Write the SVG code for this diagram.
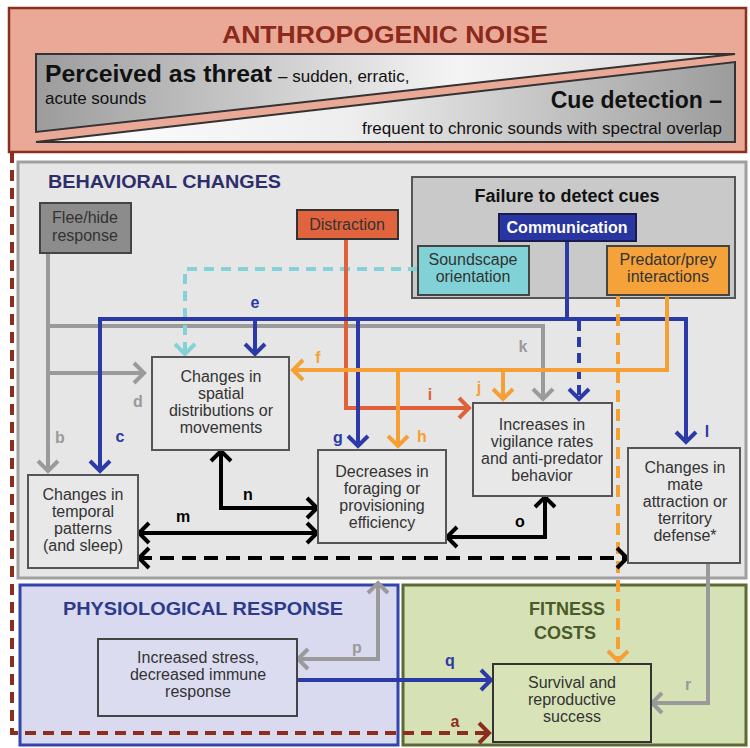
<svg xmlns="http://www.w3.org/2000/svg" width="750" height="748" viewBox="0 0 750 748">
<style>
text{font-family:"Liberation Sans",Arial,sans-serif}
.nt{font-size:16px;fill:#333;text-anchor:middle}
.lb{font-size:16px;font-weight:bold;text-anchor:middle}
.box{fill:#e8e8e8;stroke:#555;stroke-width:2}
.ln{fill:none;stroke-width:4}
.gray{stroke:#9a9a9a}
.blue{stroke:#2b3aa6}
.org{stroke:#f5a035}
.red{stroke:#e0603a}
.cyan{stroke:#84d2d8}
.blk{stroke:#000}
.brn{stroke:#8b2e1e}
</style>
<defs>
<linearGradient id="gU" x1="0" y1="0" x2="1" y2="0">
<stop offset="0" stop-color="#9c9c9c"/><stop offset="0.6" stop-color="#f4f4f4"/><stop offset="1" stop-color="#d8d8d8"/>
</linearGradient>
<linearGradient id="gL" x1="0" y1="0" x2="1" y2="0">
<stop offset="0" stop-color="#ffffff"/><stop offset="0.45" stop-color="#eeeeee"/><stop offset="1" stop-color="#9c9c9c"/>
</linearGradient>
<marker id="mg" markerUnits="userSpaceOnUse" markerWidth="30" markerHeight="30" viewBox="-15 -15 30 30" refX="0" refY="0" orient="auto-start-reverse" overflow="visible"><path d="M-11,-10 L-1,0 L-11,10" fill="none" stroke="#9a9a9a" stroke-width="4"/></marker>
<marker id="mb" markerUnits="userSpaceOnUse" markerWidth="30" markerHeight="30" viewBox="-15 -15 30 30" refX="0" refY="0" orient="auto-start-reverse" overflow="visible"><path d="M-11,-10 L-1,0 L-11,10" fill="none" stroke="#2b3aa6" stroke-width="4"/></marker>
<marker id="mo" markerUnits="userSpaceOnUse" markerWidth="30" markerHeight="30" viewBox="-15 -15 30 30" refX="0" refY="0" orient="auto-start-reverse" overflow="visible"><path d="M-11,-10 L-1,0 L-11,10" fill="none" stroke="#f5a035" stroke-width="4"/></marker>
<marker id="mr" markerUnits="userSpaceOnUse" markerWidth="30" markerHeight="30" viewBox="-15 -15 30 30" refX="0" refY="0" orient="auto-start-reverse" overflow="visible"><path d="M-11,-10 L-1,0 L-11,10" fill="none" stroke="#e0603a" stroke-width="4"/></marker>
<marker id="mc" markerUnits="userSpaceOnUse" markerWidth="30" markerHeight="30" viewBox="-15 -15 30 30" refX="0" refY="0" orient="auto-start-reverse" overflow="visible"><path d="M-11,-10 L-1,0 L-11,10" fill="none" stroke="#84d2d8" stroke-width="4"/></marker>
<marker id="mk" markerUnits="userSpaceOnUse" markerWidth="30" markerHeight="30" viewBox="-15 -15 30 30" refX="0" refY="0" orient="auto-start-reverse" overflow="visible"><path d="M-11,-10 L-1,0 L-11,10" fill="none" stroke="#000" stroke-width="4"/></marker>
<marker id="mn" markerUnits="userSpaceOnUse" markerWidth="30" markerHeight="30" viewBox="-15 -15 30 30" refX="0" refY="0" orient="auto-start-reverse" overflow="visible"><path d="M-11,-10 L-1,0 L-11,10" fill="none" stroke="#8b2e1e" stroke-width="4"/></marker>
</defs>
<rect width="750" height="748" fill="#fff"/>

<g id="noise">
<rect x="9" y="8" width="737" height="144" fill="#eaa897" stroke="#8b2e1e" stroke-width="2.5"/>
<text x="385" y="43" font-size="23" font-weight="bold" fill="#8b2a1a" text-anchor="middle" textLength="326" lengthAdjust="spacingAndGlyphs">ANTHROPOGENIC NOISE</text>
<polygon points="36,54 735,54 36,132" fill="url(#gU)" stroke="#333" stroke-width="2"/>
<polygon points="36,142 735,62 735,142" fill="url(#gL)" stroke="#333" stroke-width="2"/>
<text x="45" y="82" font-size="23" font-weight="bold" fill="#111" textLength="227" lengthAdjust="spacingAndGlyphs">Perceived as threat</text>
<text x="278" y="82" font-size="17" fill="#111">– sudden, erratic,</text>
<text x="45" y="104" font-size="17" fill="#111">acute sounds</text>
<text x="722" y="108" font-size="23" font-weight="bold" fill="#111" text-anchor="end">Cue detection –</text>
<text x="722" y="134" font-size="17" fill="#111" text-anchor="end">frequent to chronic sounds with spectral overlap</text>
</g>

<g id="behavioral">
<rect x="18" y="162" width="728" height="416" fill="#e6e6e6" stroke="#a0a0a0" stroke-width="3"/>
<text x="48" y="188" font-size="18" font-weight="bold" fill="#2e2e6a" textLength="233" lengthAdjust="spacingAndGlyphs">BEHAVIORAL CHANGES</text>
</g>
<g id="physiological">
<rect x="20" y="585" width="378" height="160" fill="#d9daf0" stroke="#3344aa" stroke-width="3"/>
<text x="63" y="615" font-size="18" font-weight="bold" fill="#2e3a8a" textLength="280" lengthAdjust="spacingAndGlyphs">PHYSIOLOGICAL RESPONSE</text>
</g>
<g id="fitness">
<rect x="403" y="585" width="343" height="160" fill="#d6e2b6" stroke="#5c6b33" stroke-width="3"/>
<text x="567" y="615" font-size="18" font-weight="bold" fill="#4a5a28" text-anchor="middle">FITNESS</text>
<text x="565" y="639" font-size="18" font-weight="bold" fill="#4a5a28" text-anchor="middle">COSTS</text>
</g>
<g id="failure">
<rect x="412" y="177" width="323" height="121" fill="#c9c9c9" stroke="#555" stroke-width="2"/>
<text x="567" y="202" font-size="18" font-weight="bold" fill="#111" text-anchor="middle">Failure to detect cues</text>
</g>

<g id="connectors">
<path class="ln brn" stroke-dasharray="11 7" d="M12,152 V733 H490" marker-end="url(#mn)"/>
<path class="ln gray" d="M48,253 V472" marker-end="url(#mg)"/>
<path class="ln gray" d="M48,326 H543 V400" marker-end="url(#mg)"/>
<path class="ln gray" d="M48,373 H145" marker-end="url(#mg)"/>
<path class="ln cyan" stroke-dasharray="10 7" d="M418,269 H185 V355" marker-end="url(#mc)"/>
<path class="ln red" d="M346,239 V408 H470" marker-end="url(#mr)"/>
<path class="ln blue" d="M567,241 V319"/>
<path class="ln blue" d="M567,319 H100 V472" marker-end="url(#mb)"/>
<path class="ln blue" d="M567,319 H686 V443" marker-end="url(#mb)"/>
<path class="ln blue" d="M255,319 V355" marker-end="url(#mb)"/>
<path class="ln blue" d="M358,319 V447" marker-end="url(#mb)"/>
<path class="ln blue" stroke-dasharray="10 6" d="M579,321 V400" marker-end="url(#mb)"/>
<path class="ln org" d="M667,295 V370 H292" marker-end="url(#mo)"/>
<path class="ln org" d="M398,370 V447" marker-end="url(#mo)"/>
<path class="ln org" d="M503,370 V400" marker-end="url(#mo)"/>
<path class="ln org" stroke-dasharray="12 7" d="M618,295 V662" marker-end="url(#mo)"/>
<path class="ln blk" d="M221,450 V508 H318" marker-start="url(#mk)" marker-end="url(#mk)"/>
<path class="ln blk" d="M138,533 H318" marker-start="url(#mk)" marker-end="url(#mk)"/>
<path class="ln blk" d="M446,537 H545 V496" marker-start="url(#mk)" marker-end="url(#mk)"/>
<path class="ln blk" stroke-dasharray="14 8" d="M138,558 H628" marker-start="url(#mk)" marker-end="url(#mk)"/>
<path class="ln gray" d="M297,659 H378 V582" marker-start="url(#mg)" marker-end="url(#mg)"/>
<path class="ln blue" d="M297,680 H492" marker-end="url(#mb)"/>
<path class="ln gray" d="M708,563 V703 H651" marker-end="url(#mg)"/>
<g class="lb">
<text x="60" y="443" fill="#9a9a9a">b</text>
<text x="120" y="442" fill="#2b3aa6">c</text>
<text x="138" y="407" fill="#9a9a9a">d</text>
<text x="255" y="308" fill="#2b3aa6">e</text>
<text x="318" y="363" fill="#f5a035">f</text>
<text x="338" y="443" fill="#2b3aa6">g</text>
<text x="422" y="442" fill="#f5a035">h</text>
<text x="430" y="400" fill="#e0603a">i</text>
<text x="479" y="393" fill="#f5a035">j</text>
<text x="523" y="352" fill="#9a9a9a">k</text>
<text x="707" y="437" fill="#2b3aa6">l</text>
<text x="183" y="522" fill="#000">m</text>
<text x="248" y="500" fill="#000">n</text>
<text x="520" y="527" fill="#000">o</text>
<text x="357" y="653" fill="#9a9a9a">p</text>
<text x="450" y="666" fill="#2b3aa6">q</text>
<text x="688" y="690" fill="#9a9a9a">r</text>
<text x="455" y="727" fill="#8b2e1e">a</text>
</g>
</g>

<g id="flee">
<rect x="40" y="203" width="91" height="50" fill="#8c8c8c" stroke="#444" stroke-width="2"/>
<text class="nt" x="85" y="223">Flee/hide</text>
<text class="nt" x="85" y="241">response</text>
</g>
<g id="distraction">
<rect x="297" y="210" width="101" height="29" fill="#e2643f" stroke="#333" stroke-width="2"/>
<text class="nt" x="347" y="230">Distraction</text>
</g>
<g id="communication">
<rect x="499" y="214" width="137" height="27" fill="#2a36a0" stroke="#1a1a50" stroke-width="2"/>
<text x="567" y="233" font-size="16" font-weight="bold" fill="#fff" text-anchor="middle">Communication</text>
</g>
<g id="soundscape">
<rect x="418" y="246" width="111" height="49" fill="#80d2d6" stroke="#444" stroke-width="2"/>
<text class="nt" x="473" y="265">Soundscape</text>
<text class="nt" x="473" y="282">orientation</text>
</g>
<g id="predator">
<rect x="607" y="246" width="122" height="49" fill="#f5a23a" stroke="#444" stroke-width="2"/>
<text class="nt" x="668" y="265">Predator/prey</text>
<text class="nt" x="668" y="282">interactions</text>
</g>
<g id="spatial">
<rect class="box" x="152" y="357" width="137" height="93"/>
<text class="nt" x="221" y="382">Changes in</text>
<text class="nt" x="221" y="399">spatial</text>
<text class="nt" x="221" y="416">distributions or</text>
<text class="nt" x="221" y="433">movements</text>
</g>
<g id="temporal">
<rect class="box" x="28" y="475" width="110" height="93"/>
<text class="nt" x="83" y="500">Changes in</text>
<text class="nt" x="83" y="517">temporal</text>
<text class="nt" x="83" y="534">patterns</text>
<text class="nt" x="83" y="551">(and sleep)</text>
</g>
<g id="foraging">
<rect class="box" x="318" y="450" width="128" height="93"/>
<text class="nt" x="382" y="477">Decreases in</text>
<text class="nt" x="382" y="494">foraging or</text>
<text class="nt" x="382" y="511">provisioning</text>
<text class="nt" x="382" y="528">efficiency</text>
</g>
<g id="vigilance">
<rect class="box" x="473" y="403" width="139" height="93"/>
<text class="nt" x="542" y="430">Increases in</text>
<text class="nt" x="542" y="447">vigilance rates</text>
<text class="nt" x="542" y="464">and anti-predator</text>
<text class="nt" x="542" y="481">behavior</text>
</g>
<g id="mate">
<rect class="box" x="628" y="448" width="112" height="115"/>
<text class="nt" x="685" y="473">Changes in</text>
<text class="nt" x="685" y="490">mate</text>
<text class="nt" x="685" y="507">attraction or</text>
<text class="nt" x="685" y="524">territory</text>
<text class="nt" x="685" y="541">defense*</text>
</g>
<g id="stress">
<rect x="98" y="639" width="199" height="77" fill="#dcdcf0" stroke="#444" stroke-width="2"/>
<text class="nt" x="198" y="663">Increased stress,</text>
<text class="nt" x="198" y="680">decreased immune</text>
<text class="nt" x="198" y="697">response</text>
</g>
<g id="survival">
<rect x="493" y="664" width="158" height="78" fill="#d8e4b8" stroke="#333" stroke-width="2"/>
<text class="nt" x="572" y="688">Survival and</text>
<text class="nt" x="572" y="705">reproductive</text>
<text class="nt" x="572" y="722">success</text>
</g>
</svg>
